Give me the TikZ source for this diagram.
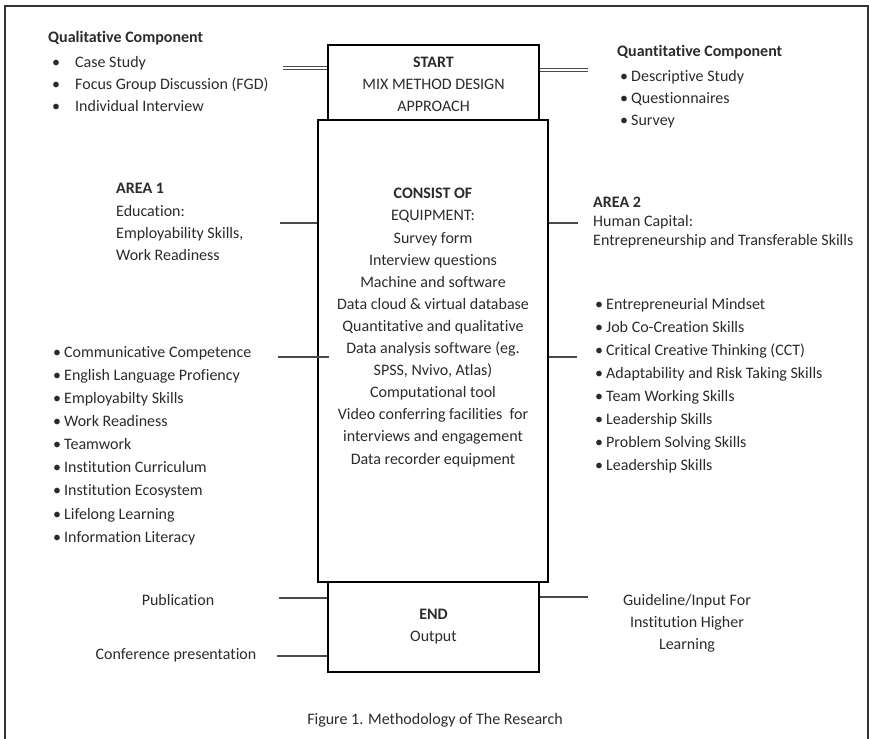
\documentclass[tikz,border=0pt]{standalone}
\usepackage{fontspec}
\setmainfont{Carlito}[Ligatures=NoCommon]
\usetikzlibrary{positioning}
\definecolor{inkgray}{HTML}{2B2B2B}
\definecolor{linegray}{HTML}{4A4A4A}
\newcommand{\bul}[1]{\makebox[#1][l]{\textbullet}}
\begin{document}
\begin{tikzpicture}[x=1pt,y=-1pt,
  box/.style={draw, line width=2.6pt, inner sep=0pt},
  link/.style={draw=linegray, line width=1.3pt},
  dbl/.style={draw=linegray, line width=0.9pt, double, double distance=2.4pt}]
\useasboundingbox (0,0) rectangle (869,738);
\draw[line width=1.2pt, black!80] (5,745) -- (5,6) -- (868,6) -- (868,745);
% the three boxes
\node[box, minimum width=211pt, minimum height=75pt] (start) at (433.5,82.5) {};
\node[box, minimum width=211pt, minimum height=90pt] (end) at (433.5,627) {};
\node[box, minimum width=230pt, minimum height=462pt] (mid) at (433,351) {};
\begin{scope}[every node/.style = {inner sep=0pt, text=inkgray, align=left,
    font=\fontsize{16}{22.1}\selectfont}]
\node[align=center] (startTxt) at (433.5,84) {\textbf{START}\\MIX METHOD DESIGN\\APPROACH};
\node[align=center] (equip) at (433,327.5) {\textbf{CONSIST OF}\\EQUIPMENT:\\Survey form\\Interview questions\\Machine and software\\Data cloud \& virtual database\\Quantitative and qualitative\\Data analysis software (eg.\\SPSS, Nvivo, Atlas)\\Computational tool\\Video conferring facilities~ for\\interviews and engagement\\Data recorder equipment};
\node[align=center] (endTxt) at (433.5,626.5) {\textbf{END}\\Output};
\node[anchor=west] (qualHead) at (48,38) {\textbf{Qualitative Component}};
\node[anchor=west] (qualList) at (52,84) {\bul{23pt}Case Study\\\bul{23pt}Focus Group Discussion (FGD)\\\bul{23pt}Individual Interview};
\node[anchor=west] (quantHead) at (617,52) {\textbf{Quantitative Component}};
\node[anchor=west] (quantList) at (620,99.5) {\bul{11pt}Descriptive Study\\\bul{11pt}Questionnaires\\\bul{11pt}Survey};
\node[anchor=west] (area1) at (116,222) {\textbf{AREA 1}\\Education:\\Employability Skills,\\Work Readiness};
\node[anchor=west, font=\fontsize{16}{19.3}\selectfont] (area2) at (593,222.5) {\textbf{AREA 2}\\Human Capital:\\Entrepreneurship and Transferable Skills};
\node[anchor=west, font=\fontsize{16}{23.1}\selectfont] (eduList) at (53,445.5) {\bul{11pt}Communicative Competence\\\bul{11pt}English Language Profiency\\\bul{11pt}Employabilty Skills\\\bul{11pt}Work Readiness\\\bul{11pt}Teamwork\\\bul{11pt}Institution Curriculum\\\bul{11pt}Institution Ecosystem\\\bul{11pt}Lifelong Learning\\\bul{11pt}Information Literacy};
\node[anchor=west, font=\fontsize{16}{23}\selectfont] (capList) at (595,385.5) {\bul{11pt}Entrepreneurial Mindset\\\bul{11pt}Job Co-Creation Skills\\\bul{11pt}Critical Creative Thinking (CCT)\\\bul{11pt}Adaptability and Risk Taking Skills\\\bul{11pt}Team Working Skills\\\bul{11pt}Leadership Skills\\\bul{11pt}Problem Solving Skills\\\bul{11pt}Leadership Skills};
\node (pub) at (178,600) {Publication};
\node (conf) at (176,655) {Conference presentation};
\node[align=center] (guide) at (687,623) {Guideline/Input For\\Institution Higher\\Learning};
\node (caption) at (435,720) {Figure 1. Methodology of The Research};
\end{scope}
% free ends of the connectors
\coordinate (qualEnd) at (283,68);
\coordinate (quantEnd) at (588,70);
\coordinate (a1End) at (280,223);
\coordinate (a2End) at (578,223);
\coordinate (eduEnd) at (278,357);
\coordinate (capEnd) at (577,357);
\coordinate (pubEnd) at (279,598);
\coordinate (confEnd) at (277,656);
\coordinate (guideEnd) at (588,597);
\draw[dbl] (qualEnd) -- (qualEnd -| start.west);
\draw[dbl] (start.east |- quantEnd) -- (quantEnd);
\draw[link] (a1End) -- (a1End -| mid.west);
\draw[link] (mid.east |- a2End) -- (a2End);
\draw[link] (eduEnd) -- ([xshift=12pt]eduEnd -| mid.west);
\draw[link] (mid.east |- capEnd) -- (capEnd);
\draw[link] (pubEnd) -- (pubEnd -| end.west);
\draw[link] (confEnd) -- (confEnd -| end.west);
\draw[link] (end.east |- guideEnd) -- (guideEnd);
\end{tikzpicture}
\end{document}
